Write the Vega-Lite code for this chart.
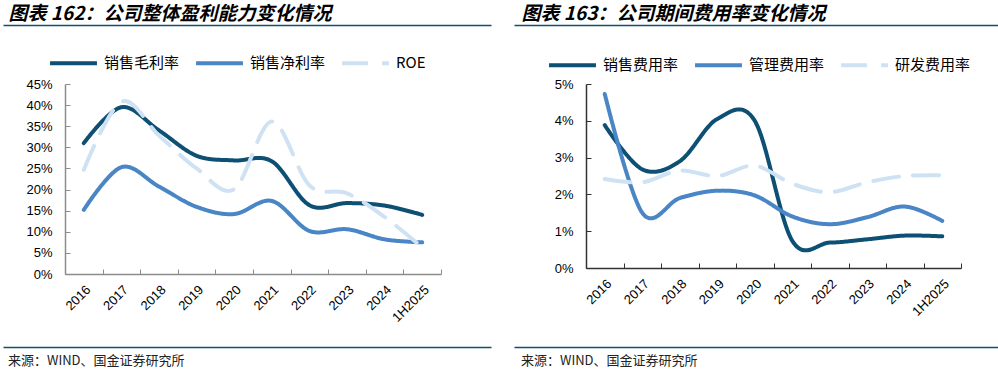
{
  "$schema": "https://vega.github.io/schema/vega-lite/v6.json",
  "background": "white",
  "padding": {"left": 3, "top": 4, "right": 0, "bottom": 0},
  "config": {"view": {"stroke": null}, "font": "Liberation Sans"},
  "datasets": {
    "left": [
      {"year": "2016", "series": "销售毛利率", "value": 0.31},
      {"year": "2017", "series": "销售毛利率", "value": 0.395},
      {"year": "2018", "series": "销售毛利率", "value": 0.34},
      {"year": "2019", "series": "销售毛利率", "value": 0.28},
      {"year": "2020", "series": "销售毛利率", "value": 0.269},
      {"year": "2021", "series": "销售毛利率", "value": 0.267},
      {"year": "2022", "series": "销售毛利率", "value": 0.163},
      {"year": "2023", "series": "销售毛利率", "value": 0.168},
      {"year": "2024", "series": "销售毛利率", "value": 0.162},
      {"year": "1H2025", "series": "销售毛利率", "value": 0.14},
      {"year": "2016", "series": "销售净利率", "value": 0.152},
      {"year": "2017", "series": "销售净利率", "value": 0.253},
      {"year": "2018", "series": "销售净利率", "value": 0.207},
      {"year": "2019", "series": "销售净利率", "value": 0.159},
      {"year": "2020", "series": "销售净利率", "value": 0.142},
      {"year": "2021", "series": "销售净利率", "value": 0.173},
      {"year": "2022", "series": "销售净利率", "value": 0.102},
      {"year": "2023", "series": "销售净利率", "value": 0.106},
      {"year": "2024", "series": "销售净利率", "value": 0.082},
      {"year": "1H2025", "series": "销售净利率", "value": 0.075},
      {"year": "2016", "series": "ROE", "value": 0.247},
      {"year": "2017", "series": "ROE", "value": 0.408},
      {"year": "2018", "series": "ROE", "value": 0.328},
      {"year": "2019", "series": "ROE", "value": 0.25},
      {"year": "2020", "series": "ROE", "value": 0.201},
      {"year": "2021", "series": "ROE", "value": 0.361},
      {"year": "2022", "series": "ROE", "value": 0.21},
      {"year": "2023", "series": "ROE", "value": 0.191},
      {"year": "2024", "series": "ROE", "value": 0.135},
      {"year": "1H2025", "series": "ROE", "value": 0.063}
    ],
    "right": [
      {"year": "2016", "series": "销售费用率", "value": 0.0388},
      {"year": "2017", "series": "销售费用率", "value": 0.0268},
      {"year": "2018", "series": "销售费用率", "value": 0.029},
      {"year": "2019", "series": "销售费用率", "value": 0.0405},
      {"year": "2020", "series": "销售费用率", "value": 0.04},
      {"year": "2021", "series": "销售费用率", "value": 0.0074},
      {"year": "2022", "series": "销售费用率", "value": 0.0069},
      {"year": "2023", "series": "销售费用率", "value": 0.0078},
      {"year": "2024", "series": "销售费用率", "value": 0.0088},
      {"year": "1H2025", "series": "销售费用率", "value": 0.0086},
      {"year": "2016", "series": "管理费用率", "value": 0.0473},
      {"year": "2017", "series": "管理费用率", "value": 0.015},
      {"year": "2018", "series": "管理费用率", "value": 0.019},
      {"year": "2019", "series": "管理费用率", "value": 0.021},
      {"year": "2020", "series": "管理费用率", "value": 0.0197},
      {"year": "2021", "series": "管理费用率", "value": 0.014},
      {"year": "2022", "series": "管理费用率", "value": 0.0119},
      {"year": "2023", "series": "管理费用率", "value": 0.0138},
      {"year": "2024", "series": "管理费用率", "value": 0.0167},
      {"year": "1H2025", "series": "管理费用率", "value": 0.0128},
      {"year": "2016", "series": "研发费用率", "value": 0.0242},
      {"year": "2017", "series": "研发费用率", "value": 0.0233},
      {"year": "2018", "series": "研发费用率", "value": 0.0265},
      {"year": "2019", "series": "研发费用率", "value": 0.025},
      {"year": "2020", "series": "研发费用率", "value": 0.0278},
      {"year": "2021", "series": "研发费用率", "value": 0.0229},
      {"year": "2022", "series": "研发费用率", "value": 0.0206},
      {"year": "2023", "series": "研发费用率", "value": 0.0233},
      {"year": "2024", "series": "研发费用率", "value": 0.025},
      {"year": "1H2025", "series": "研发费用率", "value": 0.0252}
    ]
  },
  "spacing": 11,
  "resolve": {"scale": {"color": "independent", "strokeDash": "independent"}, "legend": {"color": "independent", "strokeDash": "independent"}},
  "vconcat": [
    {
      "spacing": -32,
      "hconcat": [
        {
          "data": {"values": []},
          "mark": "point",
          "width": 426,
          "height": 1,
          "encoding": {"x": {"field": "k", "type": "quantitative", "scale": {"domain": [0, 1], "range": [-62, 426]}, "axis": {"orient": "top", "domainColor": "#0e4f74", "domainWidth": 1.5, "ticks": false, "labels": false, "grid": false, "title": "图表 162：公司整体盈利能力变化情况", "titleX": -57, "titleAlign": "left", "titleAnchor": "start", "titlePadding": 2, "titleFont": "Noto Sans CJK SC", "titleFontSize": 19, "titleFontWeight": "bold", "titleFontStyle": "italic", "titleColor": "#000"}}}
        },
        {
          "data": {"values": []},
          "mark": "point",
          "width": 412,
          "height": 1,
          "encoding": {"x": {"field": "k", "type": "quantitative", "scale": {"domain": [0, 1], "range": [-72, 412]}, "axis": {"orient": "top", "domainColor": "#0e4f74", "domainWidth": 1.5, "ticks": false, "labels": false, "grid": false, "title": "图表 163：公司期间费用率变化情况", "titleX": -65, "titleAlign": "left", "titleAnchor": "start", "titlePadding": 2, "titleFont": "Noto Sans CJK SC", "titleFontSize": 19, "titleFontWeight": "bold", "titleFontStyle": "italic", "titleColor": "#000"}}}
        }
      ]
    },
    {
      "spacing": 72,
      "resolve": {"scale": {"color": "independent", "strokeDash": "independent"}, "legend": {"color": "independent", "strokeDash": "independent"}},
      "hconcat": [
        {
          "data": {"name": "left"},
          "width": 376,
          "height": 190,
          "mark": {"type": "line", "interpolate": "cardinal", "tension": 0, "strokeWidth": 4, "strokeCap": "round"},
          "encoding": {
            "x": {
              "field": "year", "type": "ordinal", "bandPosition": 0.5,
              "sort": ["2016", "2017", "2018", "2019", "2020", "2021", "2022", "2023", "2024", "1H2025"],
              "scale": {"type": "band", "paddingInner": 0, "paddingOuter": 0},
              "axis": {"title": null, "labelAngle": -45, "tickBand": "extent", "domainColor": "#8c8c8c", "domainWidth": 1.5, "tickColor": "#8c8c8c", "tickSize": -5, "labelPadding": 14, "labelFontSize": 13, "labelColor": "#000", "minExtent": 62, "maxExtent": 62}
            },
            "y": {
              "field": "value", "type": "quantitative",
              "scale": {"domain": [0, 0.45], "nice": false},
              "axis": {"title": null, "values": [0, 0.05, 0.1, 0.15, 0.2, 0.25, 0.3, 0.35, 0.4, 0.45], "format": ".0%", "grid": false, "domainColor": "#8c8c8c", "domainWidth": 1.5, "tickColor": "#8c8c8c", "tickSize": -5, "labelPadding": 18, "labelFontSize": 13, "labelColor": "#000", "minExtent": 62, "maxExtent": 62}
            },
            "color": {
              "field": "series", "type": "nominal",
              "scale": {"domain": ["销售毛利率", "销售净利率", "ROE"], "range": ["#0e4f74", "#4a86c6", "#cfe2f3"]},
              "legend": {"orient": "none", "legendX": -17, "legendY": -46.5, "direction": "horizontal", "title": null, "symbolType": "stroke", "symbolSize": 2200, "symbolStrokeWidth": 4, "labelFont": "Noto Sans CJK SC", "labelFontSize": 15, "labelColor": "#000", "labelOffset": 5, "columnPadding": 8, "padding": 0, "labelLimit": 200}
            },
            "strokeDash": {
              "field": "series", "type": "nominal",
              "scale": {"domain": ["销售毛利率", "销售净利率", "ROE"], "range": [[1, 0], [1, 0], [26, 14]]},
              "legend": {"orient": "none", "legendX": -17, "legendY": -46.5, "direction": "horizontal", "title": null, "symbolType": "stroke", "symbolSize": 2200, "symbolStrokeWidth": 4, "labelFont": "Noto Sans CJK SC", "labelFontSize": 15, "labelColor": "#000", "labelOffset": 5, "columnPadding": 8, "padding": 0, "labelLimit": 200}
            }
          }
        },
        {
          "data": {"name": "right"},
          "width": 375,
          "height": 184,
          "mark": {"type": "line", "interpolate": "cardinal", "tension": 0, "strokeWidth": 4, "strokeCap": "round"},
          "encoding": {
            "x": {
              "field": "year", "type": "ordinal", "bandPosition": 0.5,
              "sort": ["2016", "2017", "2018", "2019", "2020", "2021", "2022", "2023", "2024", "1H2025"],
              "scale": {"type": "band", "paddingInner": 0, "paddingOuter": 0},
              "axis": {"title": null, "labelAngle": -45, "tickBand": "extent", "domainColor": "#333", "domainWidth": 1.5, "tickColor": "#333", "tickSize": -5, "labelPadding": 14, "labelFontSize": 13, "labelColor": "#000", "minExtent": 60, "maxExtent": 60}
            },
            "y": {
              "field": "value", "type": "quantitative",
              "scale": {"domain": [0, 0.05], "nice": false},
              "axis": {"title": null, "values": [0, 0.01, 0.02, 0.03, 0.04, 0.05], "format": ".0%", "grid": false, "domainColor": "#333", "domainWidth": 1.5, "tickColor": "#333", "tickSize": -5, "labelPadding": 18, "labelFontSize": 13, "labelColor": "#000", "minExtent": 72, "maxExtent": 72}
            },
            "color": {
              "field": "series", "type": "nominal",
              "scale": {"domain": ["销售费用率", "管理费用率", "研发费用率"], "range": ["#0e4f74", "#4a86c6", "#cfe2f3"]},
              "legend": {"orient": "none", "legendX": -39, "legendY": -44.5, "direction": "horizontal", "title": null, "symbolType": "stroke", "symbolSize": 2200, "symbolStrokeWidth": 4, "labelFont": "Noto Sans CJK SC", "labelFontSize": 15, "labelColor": "#000", "labelOffset": 5, "columnPadding": 8, "padding": 0, "labelLimit": 200}
            },
            "strokeDash": {
              "field": "series", "type": "nominal",
              "scale": {"domain": ["销售费用率", "管理费用率", "研发费用率"], "range": [[1, 0], [1, 0], [26, 14]]},
              "legend": {"orient": "none", "legendX": -39, "legendY": -44.5, "direction": "horizontal", "title": null, "symbolType": "stroke", "symbolSize": 2200, "symbolStrokeWidth": 4, "labelFont": "Noto Sans CJK SC", "labelFontSize": 15, "labelColor": "#000", "labelOffset": 5, "columnPadding": 8, "padding": 0, "labelLimit": 200}
            }
          }
        }
      ]
    },
    {
      "spacing": -32,
      "hconcat": [
        {
          "data": {"values": []},
          "mark": "point",
          "width": 426,
          "height": 1,
          "encoding": {"x": {"field": "k", "type": "quantitative", "scale": {"domain": [0, 1], "range": [-62, 426]}, "axis": {"orient": "top", "domainColor": "#0e4f74", "domainWidth": 1.5, "ticks": false, "labels": false, "grid": false, "title": null}}},
          "title": {"text": "来源：WIND、国金证券研究所", "orient": "bottom", "anchor": "start", "frame": "group", "dx": -57, "offset": 7, "font": "Noto Sans CJK SC", "fontSize": 13, "fontWeight": "normal", "color": "#222"}
        },
        {
          "data": {"values": []},
          "mark": "point",
          "width": 412,
          "height": 1,
          "encoding": {"x": {"field": "k", "type": "quantitative", "scale": {"domain": [0, 1], "range": [-72, 412]}, "axis": {"orient": "top", "domainColor": "#0e4f74", "domainWidth": 1.5, "ticks": false, "labels": false, "grid": false, "title": null}}},
          "title": {"text": "来源：WIND、国金证券研究所", "orient": "bottom", "anchor": "start", "frame": "group", "dx": -65, "offset": 7, "font": "Noto Sans CJK SC", "fontSize": 13, "fontWeight": "normal", "color": "#222"}
        }
      ]
    }
  ]
}
